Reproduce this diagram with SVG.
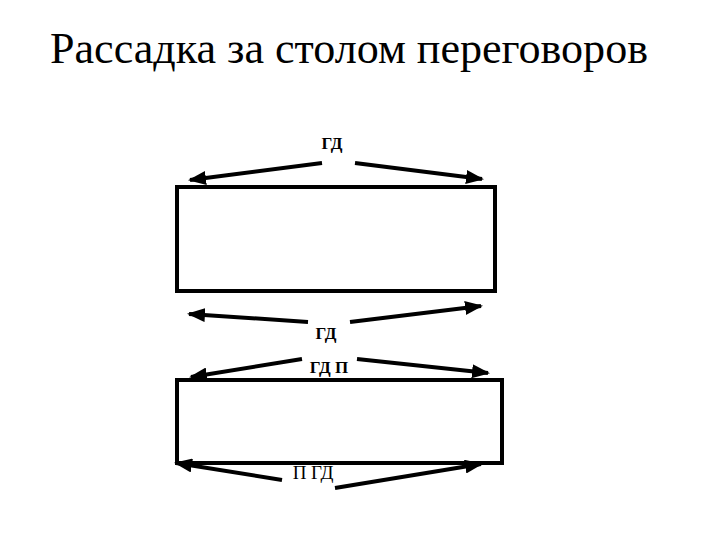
<svg xmlns="http://www.w3.org/2000/svg" width="720" height="540" viewBox="0 0 720 540">
<defs>
<marker id="ah" markerWidth="18" markerHeight="14" refX="16" refY="7" orient="auto" markerUnits="userSpaceOnUse">
<path d="M0,0 L18,7 L0,14 Z" fill="#000"/>
</marker>
</defs>
<style>
.title{font-family:"Liberation Serif","Times New Roman",serif;font-size:45px;fill:#000}
.lbl{font-family:"Liberation Serif","Times New Roman",serif;font-size:17px;font-weight:bold;fill:#000}
.lbl2{font-family:"Liberation Serif","Times New Roman",serif;font-size:19px;fill:#000}
.tbl{fill:#fff;stroke:#000;stroke-width:4}
.arr{stroke:#000;stroke-width:4;fill:none;marker-end:url(#ah)}
</style>
<rect width="720" height="540" fill="#fff"/>
<text class="title" x="50" y="63" textLength="598" lengthAdjust="spacingAndGlyphs">Рассадка за столом переговоров</text>
<g id="table1"><rect class="tbl" x="177" y="187" width="318" height="104"/></g>
<g id="table2"><rect class="tbl" x="177" y="380" width="325" height="83"/></g>
<g id="labels">
<text class="lbl" x="332" y="149" text-anchor="middle">ГД</text>
<text class="lbl" x="326" y="339" text-anchor="middle">ГД</text>
<text class="lbl" x="329" y="373" text-anchor="middle" font-size="19">ГД П</text>
<text class="lbl2" x="313" y="479" text-anchor="middle">П ГД</text>
</g>
<g id="connectors">
<line class="arr" x1="322" y1="163" x2="190" y2="180"/>
<line class="arr" x1="355" y1="163" x2="482" y2="179"/>
<line class="arr" x1="308" y1="322" x2="189" y2="314"/>
<line class="arr" x1="350" y1="322" x2="481" y2="306"/>
<line class="arr" x1="302" y1="359" x2="191" y2="377"/>
<line class="arr" x1="357" y1="359" x2="488" y2="373"/>
<line class="arr" x1="282" y1="480" x2="176" y2="463"/>
<line class="arr" x1="335" y1="488" x2="481" y2="464"/>
</g>
</svg>
